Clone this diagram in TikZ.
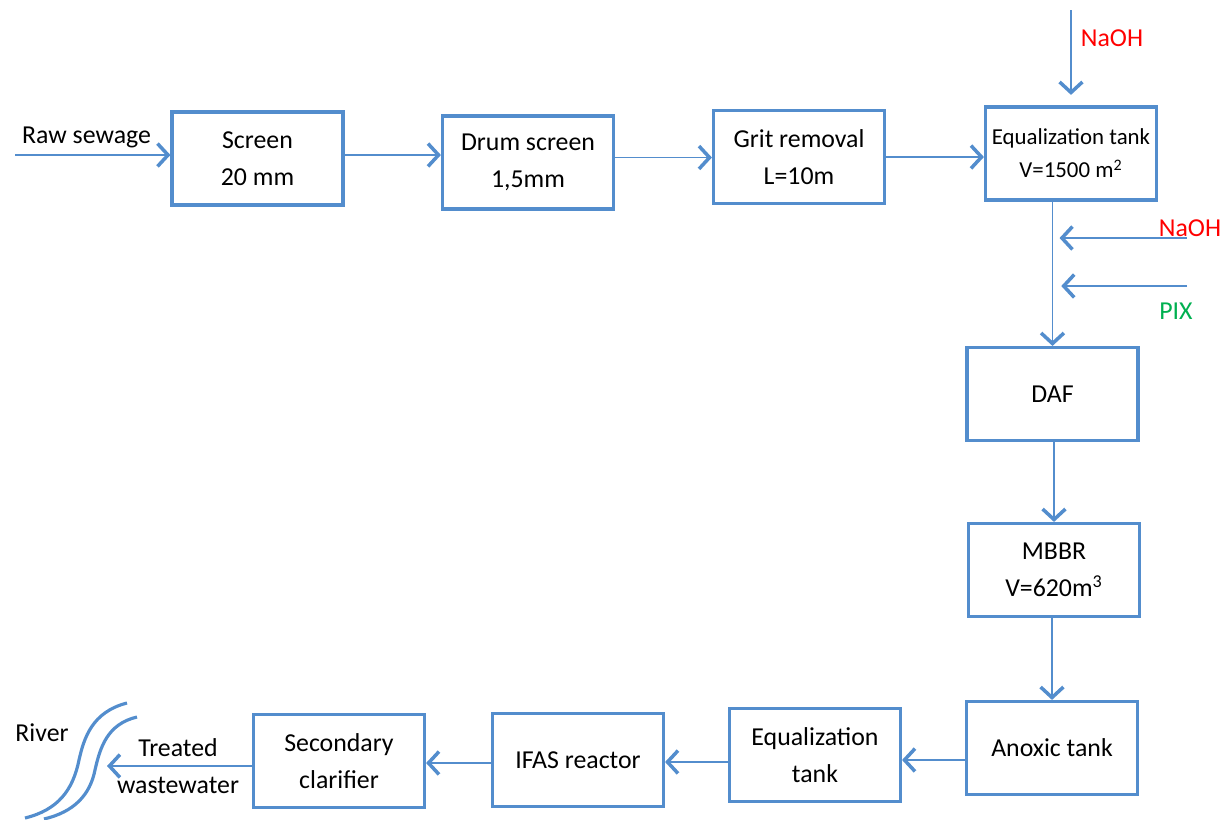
\documentclass[tikz,border=0pt]{standalone}
\usepackage{fontspec}
\setmainfont{Carlito}
\usetikzlibrary{arrows.meta}
\definecolor{flowblue}{RGB}{83,141,205}
\definecolor{dosered}{RGB}{255,0,0}
\definecolor{dosegreen}{RGB}{0,176,80}

\begin{document}
\begin{tikzpicture}[x=0.02cm, y=-0.02cm,
    unit/.style={draw=flowblue, line width=1.8pt, minimum width=3.42cm, minimum height=1.86cm,
        align=center, font=\fontsize{14.7}{21}\selectfont},
    flow/.style={draw=flowblue, line width=1.1pt,
        -{Straight Barb[length=6pt, width=13pt, line width=2pt]}},
    lbl/.style={font=\fontsize{14.7}{21}\selectfont, align=center}]
    \useasboundingbox (0,0) rectangle (1221,819);

    % Top row
    \node[unit] (screen) at (257.5,158.5) {Screen\\20 mm};
    \node[unit] (drum) at (528,162.5) {Drum screen\\1,5mm};
    \node[unit] (grit) at (799,157) {Grit removal\\L=10m};
    \node[unit, font=\fontsize{13}{18.7}\selectfont] (eqa) at (1071,153.5) {Equalization tank\\V=1500 m\textsuperscript{2}};

    % Right column
    \node[unit] (daf) at (1052.5,394) {DAF};
    \node[unit] (mbbr) at (1054,570) {MBBR\\V=620m\textsuperscript{3}};
    \node[unit] (anoxic) at (1052,748) {Anoxic tank};

    % Bottom row
    \node[unit] (eqb) at (815,755) {Equalization\\tank};
    \node[unit] (ifas) at (578,760) {IFAS reactor};
    \node[unit] (clar) at (339,761) {Secondary\\clarifier};

    % Inflow and dosing points
    \coordinate (inlet) at (15,155);
    \coordinate (naohtop) at (1071,10);
    \coordinate (naohside) at (1187,238);
    \coordinate (pixside) at (1187,286);
    \coordinate (outlet) at (107,766);

    \node[lbl, anchor=west] (rawlbl) at (16,137) {Raw sewage};
    \node[lbl, text=dosered] (naohlbl) at (1112,38) {NaOH};
    \node[lbl, text=dosered] (naohlbl2) at (1190,228) {NaOH};
    \node[lbl, text=dosegreen] (pixlbl) at (1176,311) {PIX};
    \node[lbl] (treatlbl) at (178,766) {Treated\\wastewater};
    \node[lbl] (riverlbl) at (42,733) {River};

    % Connectors
    \draw[flow] (inlet) -- (inlet -| screen.west);
    \draw[flow] ([yshift=0.07cm]screen.east) -- ([yshift=0.07cm]screen.east -| drum.west);
    \draw[flow] ([yshift=0.1cm]drum.east) -- ([yshift=0.1cm]drum.east -| grit.west);
    \draw[flow] (grit.east) -- (grit.east -| eqa.west);
    \draw[flow, shorten >=6pt] (naohtop) -- (eqa.north);
    \draw[flow] (eqa.south -| daf.north) -- (daf.north);
    \draw[flow, shorten >=4pt] (naohside) -- (naohside -| daf.north);
    \draw[flow, shorten >=5pt] (pixside) -- (pixside -| daf.north);
    \draw[flow] (daf.south -| mbbr.north) -- (mbbr.north);
    \draw[flow] (mbbr.south -| anoxic.north) -- (anoxic.north);
    \draw[flow] ([yshift=-0.24cm]anoxic.west) -- ([yshift=-0.24cm]anoxic.west -| eqb.east);
    \draw[flow] ([yshift=-0.14cm]eqb.west) -- ([yshift=-0.14cm]eqb.west -| ifas.east);
    \draw[flow] ([yshift=-0.06cm]ifas.west) -- ([yshift=-0.06cm]ifas.west -| clar.east);
    \draw[flow] ([yshift=-0.1cm]clar.west) -- (outlet);

    % River banks
    \draw[flowblue, line width=1.8pt] (127,703) .. controls (92,712) and (84,738) .. (79,760)
        .. controls (73,790) and (58,810) .. (25,818);
    \draw[flowblue, line width=1.8pt] (137,717) .. controls (107,724) and (100,748) .. (95,770)
        .. controls (90,795) and (74,812) .. (44,819);
\end{tikzpicture}
\end{document}
